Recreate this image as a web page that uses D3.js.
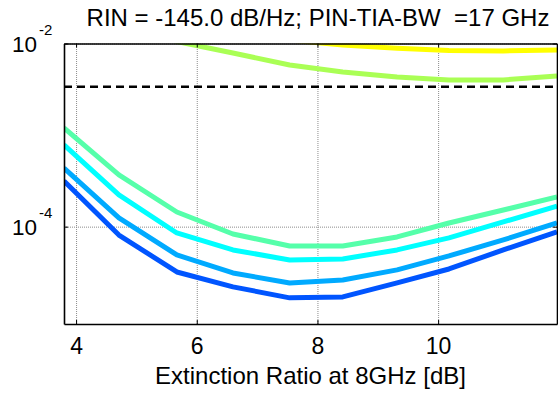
<!DOCTYPE html>
<html>
<head>
<meta charset="utf-8">
<script src="https://cdn.jsdelivr.net/npm/d3@7"></script>
<style>
  body { margin: 0; background: #fff; }
  text { font-family: "Liberation Sans", Arial, sans-serif; fill: #000; }
</style>
</head>
<body>
<svg id="chart" width="558" height="394"></svg>
<script>
// Extinction ratio at 8GHz [dB]
const erValues = [3.8, 4.71, 5.67, 6.6, 7.54, 8.42, 9.32, 10.18, 11.08, 11.97];

// BER curves (jet colours, top to bottom)
const berYellow = [4.35e-2, 2.77e-2, 1.9e-2, 1.4e-2, 1.09e-2, 9.6e-3, 8.9e-3, 8.4e-3, 8.3e-3, 8.5e-3];
const berLime   = [2.63e-2, 1.72e-2, 1.05e-2, 7.88e-3, 5.82e-3, 4.89e-3, 4.31e-3, 4.0e-3, 4.0e-3, 4.42e-3];
const berGreen  = [1.197e-3, 3.67e-4, 1.446e-4, 8.32e-5, 6.15e-5, 6.15e-5, 7.72e-5, 1.097e-4, 1.52e-4, 2.11e-4];
const berCyan   = [7.8e-4, 2.22e-4, 8.53e-5, 5.57e-5, 4.33e-5, 4.44e-5, 5.57e-5, 7.53e-5, 1.125e-4, 1.68e-4];
const berSky    = [4.37e-4, 1.245e-4, 4.91e-5, 3.12e-5, 2.43e-5, 2.62e-5, 3.37e-5, 4.79e-5, 7.16e-5, 1.097e-4];
const berBlue   = [3.15e-4, 8.1e-5, 3.2e-5, 2.2e-5, 1.67e-5, 1.71e-5, 2.43e-5, 3.45e-5, 5.57e-5, 8.75e-5];

const seriesList = [berYellow, berLime, berGreen, berCyan, berSky, berBlue];
const seriesColors = ['#ffff00', '#aaff55', '#55ffaa', '#00ffff', '#00aaff', '#0055ff'];

const berLimit = 3.37e-3;
const xTicks = [4, 6, 8, 10];
const yTicks = [1e-4, 1e-2];
const yTickExp = ['-4', '-2'];

const titleText = 'RIN = -145.0 dB/Hz; PIN-TIA-BW  =17 GHz';
const xLabelText = 'Extinction Ratio at 8GHz [dB]';

const svg = d3.select('#chart');
const box = { left: 64, right: 557, top: 43.5, bottom: 324 };
const plotW = box.right - box.left, plotH = box.bottom - box.top;

const x = d3.scaleLinear().domain([3.8, 11.97]).range([box.left, box.right]);
const y = d3.scaleLog().domain([8.65e-6, 1e-2]).range([box.bottom, box.top]);

svg.append('defs').append('clipPath').attr('id', 'clip')
  .append('rect').attr('x', box.left).attr('y', box.top).attr('width', plotW).attr('height', plotH);

// grid lines
const gridStyle = g => {
  g.select('.domain').remove();
  g.selectAll('line').attr('stroke', '#8c8c8c').attr('stroke-width', 1).attr('stroke-dasharray', '1,1');
};
svg.append('g').attr('transform', `translate(0,${box.bottom})`)
  .call(d3.axisBottom(x).tickValues(xTicks).tickSize(-plotH).tickFormat(''))
  .call(gridStyle);
svg.append('g').attr('transform', `translate(${box.left},0)`)
  .call(d3.axisLeft(y).tickValues(yTicks).tickSize(-plotW).tickFormat(''))
  .call(gridStyle);

// dashed limit
svg.append('line')
  .attr('x1', box.left).attr('x2', box.right)
  .attr('y1', y(berLimit)).attr('y2', y(berLimit))
  .attr('stroke', '#000').attr('stroke-width', 2.6).attr('stroke-dasharray', '8,5');

// curves
const line = d3.line().x((d, i) => x(erValues[i])).y(d => y(d));
svg.append('g').attr('clip-path', 'url(#clip)')
  .selectAll('path').data(seriesList).join('path')
  .attr('d', line)
  .attr('fill', 'none')
  .attr('stroke', (d, i) => seriesColors[i])
  .attr('stroke-width', 5)
  .attr('stroke-linejoin', 'round');

// axes frame with inward ticks
const axisStyle = g => {
  g.select('.domain').attr('stroke', '#000').attr('stroke-width', 1.6);
  g.selectAll('.tick line').attr('stroke', '#000').attr('stroke-width', 1);
};
svg.append('g').attr('transform', `translate(0,${box.bottom})`)
  .call(d3.axisBottom(x).tickValues(xTicks).tickSize(-4).tickSizeOuter(0).tickPadding(14))
  .call(axisStyle)
  .call(g => g.selectAll('.tick text').attr('font-size', 23).attr('font-family', '"Liberation Sans", Arial, sans-serif').attr('fill', '#000').attr('dy', '0.71em'));
svg.append('g').attr('transform', `translate(0,${box.top})`)
  .call(d3.axisTop(x).tickValues(xTicks).tickSize(-4).tickSizeOuter(0).tickFormat(''))
  .call(axisStyle);
svg.append('g').attr('transform', `translate(${box.left},0)`)
  .call(d3.axisLeft(y).tickValues(yTicks).tickSize(-4).tickSizeOuter(0).tickFormat(''))
  .call(axisStyle);
svg.append('g').attr('transform', `translate(${box.right},0)`)
  .call(d3.axisRight(y).tickValues(yTicks).tickSize(-4).tickSizeOuter(0).tickFormat(''))
  .call(axisStyle);

// y tick labels 10^n
const yLab = svg.append('g').selectAll('g').data(yTicks).join('g')
  .attr('transform', d => `translate(0,${y(d)})`);
yLab.append('text').attr('x', 37).attr('y', 8).attr('text-anchor', 'end')
  .attr('font-size', 22.5).text('10');
yLab.append('text').attr('x', 39).attr('y', -9)
  .attr('font-size', 15).text((d, i) => yTickExp[i]);

// title and x label
svg.append('text').attr('x', 318).attr('y', 26).attr('text-anchor', 'middle')
  .attr('font-size', 24).style('white-space', 'pre').text(titleText);
svg.append('text').attr('x', (box.left + box.right) / 2).attr('y', 384).attr('text-anchor', 'middle')
  .attr('font-size', 24).text(xLabelText);
</script>
</body>
</html>
